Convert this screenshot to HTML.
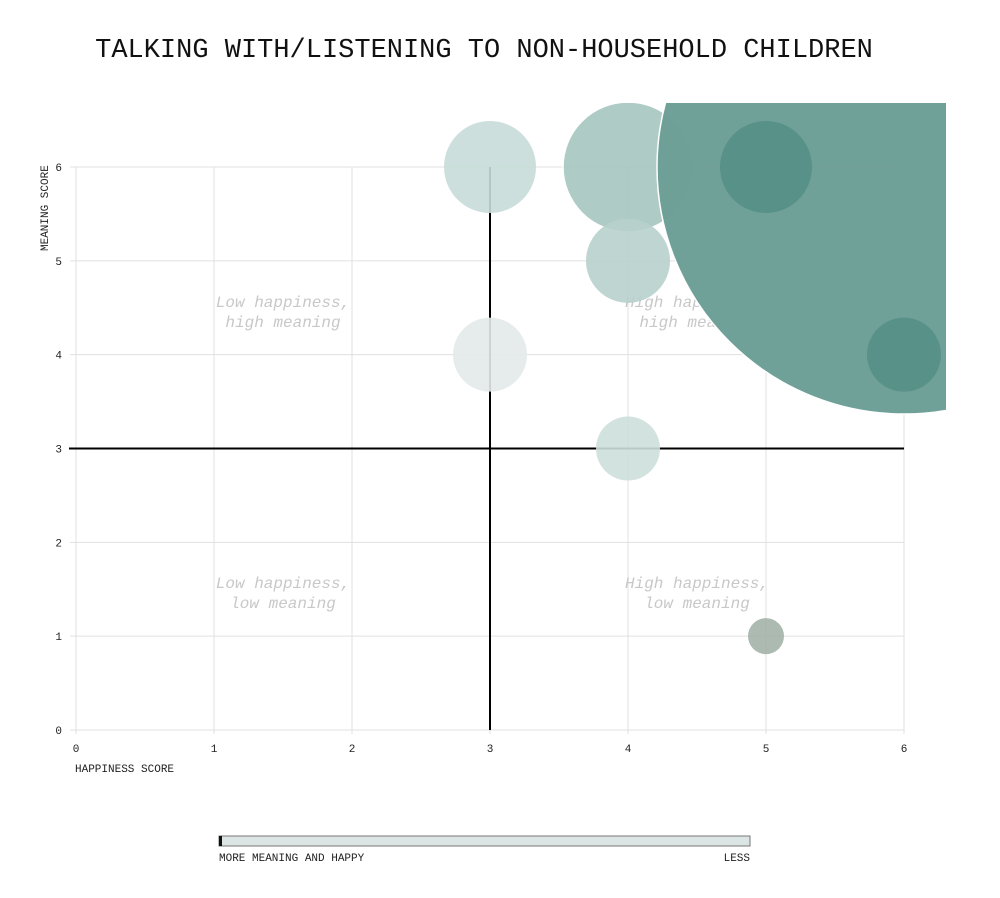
<!DOCTYPE html>
<html><head><meta charset="utf-8"><style>
body{margin:0;background:#fff;width:1000px;height:893px;overflow:hidden}
svg text{font-family:"Liberation Mono","DejaVu Sans Mono",monospace}
</style></head><body>
<svg width="1000" height="893" viewBox="0 0 1000 893">
<text x="484" y="57" text-anchor="middle" font-size="27" fill="#111">TALKING WITH/LISTENING TO NON-HOUSEHOLD CHILDREN</text>
<defs><clipPath id="clip"><rect x="0" y="103" width="946" height="800"/></clipPath></defs>
<g id="grid"></g>
<g id="quad" font-family="Liberation Serif,serif" font-style="italic" font-size="16" fill="#c8c8c8" text-anchor="middle">
<text x="283" y="307"><tspan x="283">Low happiness,</tspan><tspan x="283" dy="20">high meaning</tspan></text>
<text x="697" y="307"><tspan x="697">High happiness,</tspan><tspan x="697" dy="20">high meaning</tspan></text>
<text x="283" y="588"><tspan x="283">Low happiness,</tspan><tspan x="283" dy="20">low meaning</tspan></text>
<text x="697" y="588"><tspan x="697">High happiness,</tspan><tspan x="697" dy="20">low meaning</tspan></text>
</g>
<g id="bubbles" clip-path="url(#clip)"></g>
<text x="75" y="772" font-size="11" fill="#222">HAPPINESS SCORE</text>
<text transform="translate(48,251) rotate(-90)" font-size="11" fill="#222">MEANING SCORE</text>
<g>
<rect x="219" y="836" width="531" height="10" fill="#dbe5e3" stroke="#777"/>
<rect x="219" y="836" width="3" height="10" fill="#111"/>
<text x="219" y="861" font-size="11" fill="#222">MORE MEANING AND HAPPY</text>
<text x="750" y="861" font-size="11" fill="#222" text-anchor="end">LESS</text>
</g>
</svg>
<script>
const xTicks=[0,1,2,3,4,5,6];
const yTicks=[0,1,2,3,4,5,6];
const bx=[6,4,3,5,6,4,3,4,5];
const by=[6,6,6,6,4,5,4,3,1];
const br=[247,65,46,46,37,42,37,32,18];
const bc=["#6b9e96","#a6c5c0","#c6dbd8","#558f86","#558f86","#b8d0cc","#e3eaea","#cddfdc","#a3b3aa"];
const NS="http://www.w3.org/2000/svg";
const X=v=>76+v*138, Y=v=>730-v*93.83;
const grid=document.getElementById('grid');
function mk(tag,attrs,parent){const e=document.createElementNS(NS,tag);for(const k in attrs)e.setAttribute(k,attrs[k]);parent.appendChild(e);return e;}
xTicks.forEach(t=>{
 const l=mk('line',{x1:X(t),x2:X(t),y1:Y(6),y2:Y(0)+4,stroke:'#e0e0e0'},grid);
 
 
 const tx=mk('text',{x:X(t),y:752,'font-size':11,'text-anchor':'middle',fill:'#222'},grid);tx.textContent=t;
 
 
});
yTicks.forEach(t=>{
 const l=mk('line',{x1:X(0)-6,x2:X(6),y1:Y(t),y2:Y(t),stroke:'#e0e0e0'},grid);
 
 
 const tx=mk('text',{x:62,y:Y(t)+4,'font-size':11,'text-anchor':'end',fill:'#222'},grid);tx.textContent=t;
 
 
});
const va=mk('line',{x1:X(3),x2:X(3),y1:Y(6),y2:Y(0),stroke:'#000','stroke-width':2},grid);


const ha=mk('line',{x1:69,x2:X(6),y1:Y(3),y2:Y(3),stroke:'#000','stroke-width':2},grid);


const g=document.getElementById('bubbles');
const order=[1,0,2,3,4,5,6,7,8];
order.forEach(i=>{
 const c=mk('circle',{cx:X(bx[i]),cy:Y(by[i]),r:br[i],fill:bc[i],'fill-opacity':i===0?0.97:0.9,stroke:(i<2)?'#fff':'none','stroke-width':1.5},g);
 
 
});
</script>
</body></html>
